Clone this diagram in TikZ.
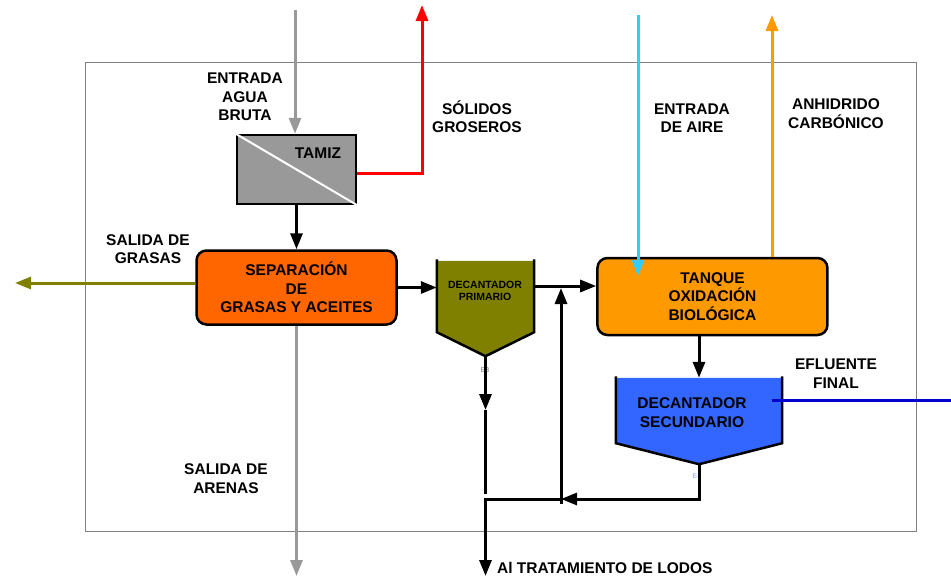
\documentclass[tikz,border=0pt]{standalone}
\usepackage{fontspec}
\setmainfont{Liberation Sans}
\usepackage{tikz}
\usetikzlibrary{arrows.meta,positioning}
\definecolor{gris}{HTML}{999999}
\definecolor{marco}{HTML}{808080}
\definecolor{naranja}{HTML}{FF6600}
\definecolor{ambar}{HTML}{FF9900}
\definecolor{oliva}{HTML}{808000}
\definecolor{azul}{HTML}{3366FF}
\definecolor{celeste}{HTML}{33CCFF}
\definecolor{azuloscuro}{HTML}{0000CC}

\begin{document}
\begin{tikzpicture}[x=1pt, y=-1pt,
		>={Triangle[length=16pt,width=12pt]},
		flujo/.style = {line width=3pt},
		lbl/.style = {font=\fontsize{15.5}{18.5}\selectfont\bfseries, align=center, inner sep=0pt},
		caja/.style = {draw, line width=2.5pt, rounded corners=10pt, font=\fontsize{15.5}{18.5}\selectfont\bfseries, align=center},
		peq/.style = {font=\fontsize{7}{7}\selectfont, inner sep=0pt}
		]
		\useasboundingbox (0,0) rectangle (951,576);
		\draw[marco, line width=1pt] (85,62) rectangle (916,531);
		
		%tamiz
		\node (tamiz) [draw, fill=gris, line width=2.5pt, minimum width=119pt, minimum height=69pt] at (296.5,169.5) {};
		\draw[white, line width=2pt] (tamiz.north west) -- (tamiz.south east);
		\node (tamiztxt) [lbl] at (318,153) {TAMIZ};
		
		%separacion and decantador primario
		\node (sep) [caja, fill=naranja, minimum width=200pt, minimum height=74pt, below=44pt of tamiz] {SEPARACIÓN\\DE\\GRASAS Y ACEITES};
		\node (decprim) [minimum width=97pt, minimum height=71pt, inner sep=0pt] at (485.5,296.5) {};
		\coordinate (decprimtip) at ([yshift=-24pt]decprim.south);
		\fill[oliva] (decprim.north west) -- (decprim.south west) -- (decprimtip) -- (decprim.south east) -- (decprim.north east) -- cycle;
		\draw[line width=2.5pt, line join=miter] ([yshift=1.5pt]decprim.north west) -- (decprim.south west) -- (decprimtip) -- (decprim.south east) -- ([yshift=1.5pt]decprim.north east);
		\node (decprimtxt) [font=\fontsize{10.5}{11.5}\selectfont\bfseries, align=center, inner sep=0pt] at (485,291) {DECANTADOR\\PRIMARIO};
		\node (e3) [peq, text=gris!80!black] at (485,370) {E3};
		
		%tanque and decantador secundario
		\node (tanque) [caja, fill=ambar, minimum width=230pt, minimum height=77pt, right=62pt of decprim] {TANQUE\\OXIDACIÓN\\BIOLÓGICA};
		\node (decsec) [minimum width=166pt, minimum height=65pt, inner sep=0pt] at (699,410.5) {};
		\coordinate (decsectip) at ([yshift=-21pt]decsec.south);
		\fill[azul] (decsec.north west) -- (decsec.south west) -- (decsectip) -- (decsec.south east) -- (decsec.north east) -- cycle;
		\draw[line width=2.5pt, line join=miter] ([yshift=1.5pt]decsec.north west) -- (decsec.south west) -- (decsectip) -- (decsec.south east) -- ([yshift=1.5pt]decsec.north east);
		\node (decsectxt) [lbl] at (692,412.5) {DECANTADOR\\SECUNDARIO};
		\node (e4) [peq, text=azul!60] at (697,476) {E4};
		
		%free ends
		\coordinate (aguain) at (295,10);
		\coordinate (solidosout) at (422,5);
		\coordinate (grasasout) at (15,283);
		\coordinate (arenasout) at (297,576);
		\coordinate (airein) at (638,15);
		\coordinate (airetip) at (638,276);
		\coordinate (co2out) at (772,15);
		\coordinate (efluin) at (772,400);
		\coordinate (efluout) at (951,400);
		\coordinate (lodosmid) at (485.5,410);
		\coordinate (lodosgap) at (485.5,494);
		\coordinate (lodosjoin) at (485.5,499);
		\coordinate (lodosout) at (485.5,576);
		\coordinate (recirc) at (561,499);
		\coordinate (recirctop) at (561,288);
		
		%connectors
		\draw[flujo, gris, ->] (aguain) -- (aguain |- tamiz.north);
		\draw[flujo, red, ->] ([yshift=-3.5pt]tamiz.east) -| (solidosout);
		\draw[flujo, ->] (tamiz.south) -- (sep.north);
		\draw[flujo, oliva, ->] (sep.west |- grasasout) -- (grasasout);
		\draw[flujo, gris, ->] (sep.south) -- (sep.south |- arenasout);
		\draw[flujo, ->] (sep.east) -- (sep.east -| decprim.west);
		\draw[flujo, ->] ([yshift=10.5pt]decprim.east) -- ([yshift=10.5pt]decprim.east -| tanque.west);
		\draw[flujo, celeste, ->] (airein) -- (airetip);
		\draw[flujo, ambar, ->] (tanque.north -| co2out) -- (co2out);
		\draw[flujo, ->] (tanque.south -| decsec.north) -- (decsec.north);
		\draw[flujo, azuloscuro] (efluin) -- (efluout);
		\draw[flujo, ->] (decprimtip) -- (lodosmid);
		\draw[flujo] (lodosmid) -- (lodosgap);
		\draw[flujo, ->] (decsectip) |- (recirc);
		\draw[flujo, ->] (recirc) -- (lodosjoin) -- (lodosout);
		\draw[flujo, ->] ([yshift=-5pt]recirc) -- (recirctop);
		
		%labels
		\node (aguatxt) [lbl] at (245,97) {ENTRADA\\AGUA\\BRUTA};
		\node (solidostxt) [lbl] at (477,116.5) {SÓLIDOS\\GROSEROS};
		\node (airetxt) [lbl] at (692,118) {ENTRADA\\DE AIRE};
		\node (co2txt) [lbl] at (836,113.5) {ANHIDRIDO\\CARBÓNICO};
		\node (grasastxt) [lbl] at (148,249) {SALIDA DE\\GRASAS};
		\node (arenastxt) [lbl] at (226,478.5) {SALIDA DE\\ARENAS};
		\node (eflutxt) [lbl] at (836,373.5) {EFLUENTE\\FINAL};
		\node (lodostxt) [lbl, anchor=west] at (497,568) {Al TRATAMIENTO DE LODOS};
		
\end{tikzpicture}
\end{document}
